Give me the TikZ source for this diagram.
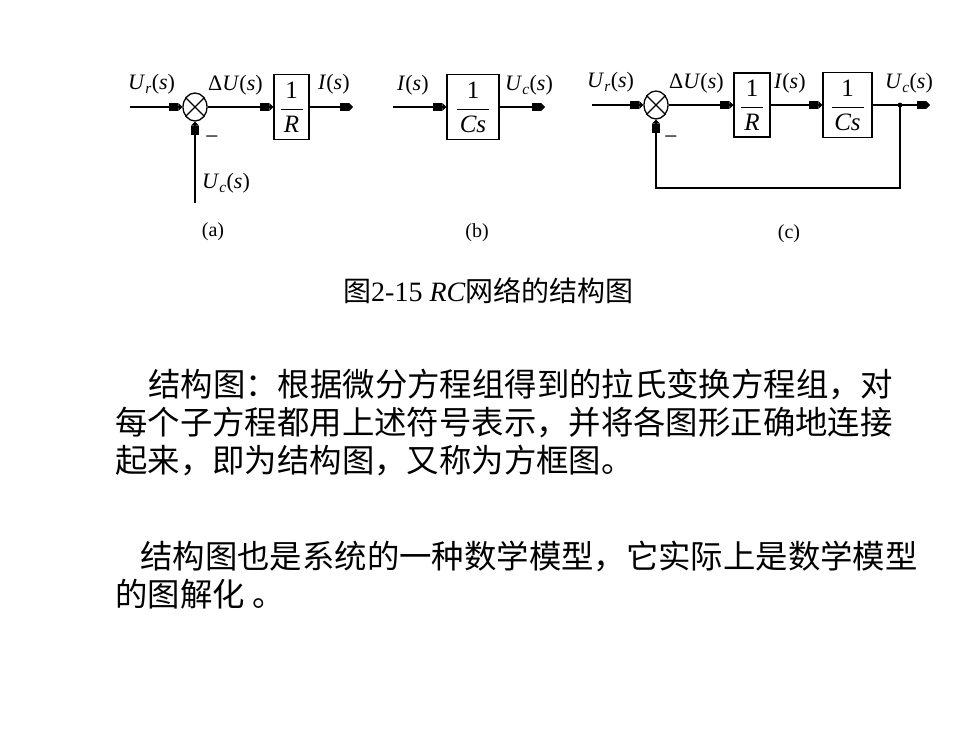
\documentclass[tikz,border=0pt]{standalone}
\usepackage{fontspec}
\setmainfont{Liberation Serif}
\newfontfamily\cjk{Noto Sans CJK SC}
\usetikzlibrary{arrows.meta,shapes.geometric}
\newcommand{\myfr}[3]{$\displaystyle\frac{\hbox to #3{\hfil 1\hfil}}{\hbox{\itshape #2}}$}
\newcommand{\sig}[2]{\textit{#1}\textsubscript{\textit{#2}}(\textit{s})}
\begin{document}
\begin{tikzpicture}[x=1pt,y=-1pt,
  flow/.style={line width=1.3pt,-{Square[length=9pt,width=8pt]Triangle[length=4pt,width=8pt]}},
  wire/.style={line width=1.3pt},
  blk/.style={draw,line width=1.4pt,inner sep=0pt,minimum height=65pt,font=\fontsize{25}{28}\selectfont},
  sumj/.style={draw,ellipse,line width=1.3pt,minimum width=24pt,minimum height=28pt,inner sep=0pt},
  lbl/.style={inner sep=0pt,anchor=base west,font=\fontsize{22}{26}\selectfont},
  minus/.style={inner sep=0pt,font=\fontsize{24}{26}\selectfont},
  tag/.style={inner sep=0pt,font=\fontsize{20}{22}\selectfont},
  body/.style={inner sep=0pt,anchor=base west,font=\cjk\fontsize{32.4}{38}\selectfont},
]
\useasboundingbox (0,0) rectangle (980,735);

% ---------- (a)
\coordinate (ain) at (130,107);
\node[sumj] (sa) at (195,107) {};
\draw[wire] (sa.45) -- (sa.225) (sa.135) -- (sa.315);
\node[blk,minimum width=35pt] (ra) at (291.5,107) {\myfr{1}{R}{22pt}};
\coordinate (aout) at (353,107);
\coordinate (afb) at (195,203);
\draw[flow] (ain) -- (sa.west);
\draw[flow] (sa.east) -- (ra.west);
\draw[flow] (ra.east) -- (aout);
\draw[flow] (afb) -- (sa.south);
\node[lbl] (la1) at (128,90) {\sig{U}{r}};
\node[lbl] (la2) at (208,91) {Δ\textit{U}(\textit{s})};
\node[lbl] (la3) at (318,90) {\textit{I}(\textit{s})};
\node[minus] (la4) at (212,140) {−};
\node[lbl] (la5) at (202,189) {\sig{U}{c}};
\node[tag] (ta) at (213,232) {(a)};

% ---------- (b)
\coordinate (bin) at (393,107);
\node[blk,minimum width=52pt] (cb) at (473,107) {\myfr{1}{Cs}{32pt}};
\coordinate (bout) at (545,107);
\draw[flow] (bin) -- (cb.west);
\draw[flow] (cb.east) -- (bout);
\node[lbl] (lb1) at (397,91) {\textit{I}(\textit{s})};
\node[lbl] (lb2) at (505,91) {\sig{U}{c}};
\node[tag] (tb) at (477,233) {(b)};

% ---------- (c)
\coordinate (cin) at (592,105);
\node[sumj] (sc) at (656,105) {};
\draw[wire] (sc.45) -- (sc.225) (sc.135) -- (sc.315);
\node[blk,minimum width=36pt,minimum height=64pt] (rc) at (752,105) {\myfr{1}{R}{22pt}};
\node[blk,minimum width=49pt] (cc) at (847.5,105) {\myfr{1}{Cs}{32pt}};
\coordinate (bp) at (900,105);
\coordinate (cout) at (930,105);
\coordinate (fb1) at (900,188);
\coordinate (fb2) at (656,188);
\draw[flow] (cin) -- (sc.west);
\draw[flow] (sc.east) -- (rc.west);
\draw[flow] (rc.east) -- (cc.west);
\draw[wire] (cc.east) -- (bp);
\draw[flow] (bp) -- (cout);
\fill (bp) circle (2.4pt);
\draw[flow] (bp) -- (fb1) -- (fb2) -- (sc.south);
\node[lbl] (lc1) at (587,88) {\sig{U}{r}};
\node[lbl] (lc2) at (669,89) {Δ\textit{U}(\textit{s})};
\node[lbl] (lc3) at (774,89) {\textit{I}(\textit{s})};
\node[lbl] (lc4) at (885,89) {\sig{U}{c}};
\node[minus] (lc5) at (671,140) {−};
\node[tag] (tc) at (789,234) {(c)};

% ---------- caption
\node[inner sep=0pt,anchor=base west,font=\fontsize{28}{32}\selectfont] (cap) at (343,302)
  {{\cjk 图}2-15 \textit{RC}{\cjk 网络的结构图}};

% ---------- body text
\node[body] (t1) at (148,396) {结构图：根据微分方程组得到的拉氏变换方程组，对};
\node[body] (t2) at (115,434) {每个子方程都用上述符号表示，并将各图形正确地连接};
\node[body] (t3) at (115,472) {起来，即为结构图，又称为方框图。};
\node[body] (t4) at (140,568) {结构图也是系统的一种数学模型，它实际上是数学模型};
\node[body] (t5) at (115,606) {的图解化 。};
\end{tikzpicture}
\end{document}
